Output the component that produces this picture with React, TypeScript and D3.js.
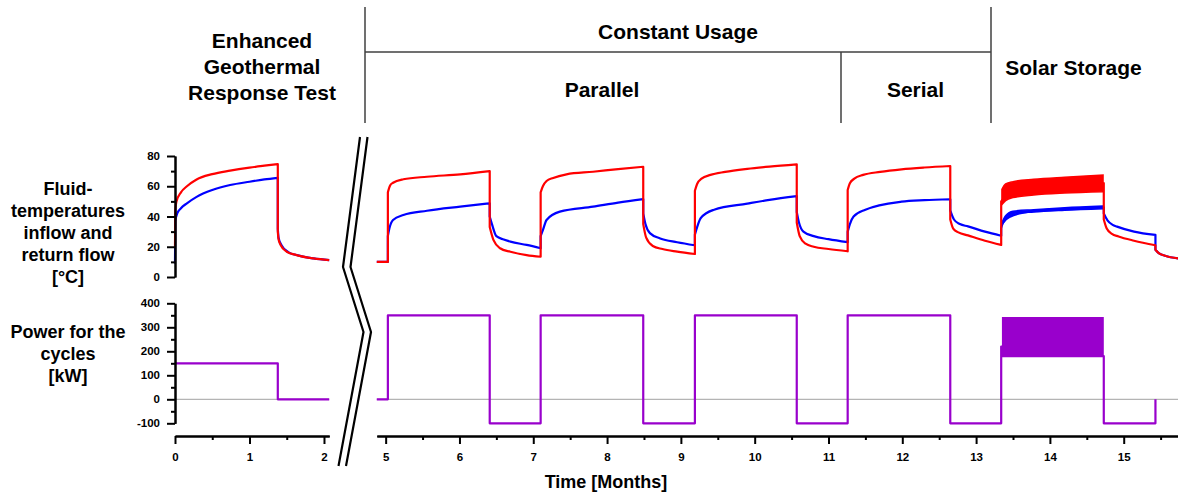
import React, { useRef, useEffect } from 'react';
import * as d3 from 'd3';

const W = 1178;
const H = 496;

type Pt = [number, number];

// Enhanced Geothermal Response Test, [month, °C] / [month, kW]
const ertSupply: Pt[] = [
  [0, 20], [0.004, 44], [0.02, 50], [0.08, 56], [0.16, 60], [0.29, 64.5], [0.5, 68],
  [0.74, 70.3], [1.0, 72.3], [1.2, 73.6], [1.38, 74.7],
  [1.38, 30], [1.39, 25], [1.42, 21], [1.5, 16.7], [1.63, 14.5], [1.86, 12.3], [2.07, 11.2],
];
const ertReturn: Pt[] = [
  [0, 9], [0.004, 37], [0.03, 42], [0.08, 45.5], [0.16, 48.7], [0.29, 53], [0.5, 57.5],
  [0.74, 60.8], [1.0, 63], [1.2, 64.5], [1.38, 65.6],
  [1.38, 32], [1.39, 26], [1.43, 21], [1.52, 16.5], [1.65, 14.3], [1.86, 12.3], [2.07, 11.2],
];
const ertPower: Pt[] = [[0, 150], [1.38, 0], [2.07, 0]];

// constant usage + solar storage, [month, °C]
const supplyTemp: Pt[] = [
  [4.88, 10], [5.03, 10],
  [5.03, 56], [5.06, 60.5], [5.1, 62.3], [5.24, 64.6], [5.56, 66.3], [6.01, 67.9], [6.41, 70],
  [6.41, 33], [6.46, 24.5], [6.55, 19], [6.69, 16.7], [6.91, 14.5], [7.1, 13.4],
  [7.1, 56], [7.13, 60], [7.18, 63.5], [7.27, 65.5], [7.45, 67.9], [7.81, 69.6], [8.15, 71.3], [8.49, 72.9],
  [8.49, 35], [8.53, 26], [8.62, 20.5], [8.75, 18.5], [8.95, 16.8], [9.19, 15.2],
  [9.19, 57], [9.22, 61.5], [9.28, 65], [9.4, 67.5], [9.6, 69.5], [9.9, 71.5], [10.2, 73], [10.57, 74.5],
  [10.57, 36], [10.61, 27], [10.69, 22], [10.8, 20], [11.0, 18.5], [11.26, 17],
  [11.26, 57.5], [11.29, 62], [11.35, 65], [11.47, 67.5], [11.7, 69.5], [11.99, 71.2], [12.3, 72.4], [12.65, 73.4],
  [12.65, 38], [12.69, 32], [12.76, 29.5], [12.89, 27.5], [13.12, 24], [13.34, 21.2],
  [13.34, 50], [13.5, 57.5], [13.78, 59.4], [14.2, 60.7], [14.73, 62],
  [14.73, 38], [14.77, 32], [14.84, 28.5], [14.93, 26.8], [15.14, 24], [15.43, 21],
  [15.43, 18], [15.47, 16], [15.56, 14], [15.76, 12.2],
];
const returnTemp: Pt[] = [
  [4.88, 10], [5.03, 10],
  [5.03, 27], [5.05, 32], [5.1, 37.7], [5.24, 41], [5.56, 43.8], [6.01, 46.5], [6.41, 48.7],
  [6.41, 40], [6.44, 35], [6.5, 27], [6.6, 24.8], [6.69, 23.4], [6.91, 21.2], [7.1, 19],
  [7.1, 27], [7.13, 31], [7.18, 37.7], [7.36, 43.2], [7.81, 46.5], [8.15, 49.2], [8.49, 51.5],
  [8.49, 42], [8.52, 35], [8.58, 29], [8.72, 25.5], [8.95, 23], [9.19, 21],
  [9.19, 28], [9.22, 33], [9.27, 39], [9.45, 44.5], [9.9, 48.5], [10.2, 51], [10.57, 53.5],
  [10.57, 43], [10.6, 36], [10.66, 30], [10.8, 27], [11.0, 25], [11.26, 23],
  [11.26, 30], [11.29, 35], [11.34, 40], [11.5, 44.5], [11.99, 49.8], [12.3, 50.8], [12.65, 51.4],
  [12.65, 44], [12.7, 38], [12.78, 35], [12.89, 33.5], [13.12, 30], [13.34, 27.3],
  [13.34, 32], [13.36, 35.5], [13.46, 39.9], [13.78, 43.6], [14.23, 45], [14.73, 46.1],
  [14.73, 42], [14.78, 37.5], [14.85, 34.5], [14.91, 33.3], [15.14, 30], [15.43, 27.8],
  [15.43, 18], [15.47, 16], [15.56, 14], [15.76, 12.2],
];
const cyclePower: Pt[] = [
  [4.88, 0], [5.03, 350], [6.41, -100], [7.1, 350], [8.49, -100], [9.19, 350], [10.57, -100],
  [11.26, 350], [12.65, -100], [13.34, 220], [13.36, 180], [14.73, -100], [15.43, 0],
];

// solar storage oscillation envelopes
const solarMonths = [13.35, 13.4, 13.5, 13.78, 14.2, 14.72];
const solarSupplyLow = [48, 50.5, 52.5, 54.2, 55.5, 56.4];
const solarSupplyHigh = [58, 61.5, 63, 64.6, 66, 67.4];
const solarReturnLow = [34, 38.5, 41.5, 43, 44.2, 45.2];
const solarReturnHigh = [36, 40.5, 43.5, 44.5, 45.8, 46.9];
const solarPowerMonths = [13.36, 14.72];
const solarPowerLow = [180, 180];
const solarPowerHigh = [340, 340];

const tempTicks = [0, 20, 40, 60, 80];
const tempMinor = [10, 30, 50, 70];
const powerTicks = [-100, 0, 100, 200, 300, 400];
const powerMinor = [-50, 50, 150, 250, 350];
const ertMonthTicks = [0, 1, 2];
const ertMonthMinor = [0.5, 1.5];
const monthTicks = [5, 6, 7, 8, 9, 10, 11, 12, 13, 14, 15];
const monthMinor = [5.5, 6.5, 7.5, 8.5, 9.5, 10.5, 11.5, 12.5, 13.5, 14.5, 15.5];

const tempLabel = ['Fluid-', 'temperatures', 'inflow and', 'return flow', '[°C]'];
const powerLabel = ['Power for the', 'cycles', '[kW]'];
const ertLabel = ['Enhanced', 'Geothermal', 'Response Test'];

const FONT = '"Liberation Sans", Arial, sans-serif';
const RED = '#ff0000';
const BLUE = '#0000ff';
const PURPLE = '#9900cc';

// split at vertical jumps (repeated month), smooth each piece, join with straight lines
function jumpPath(points: Pt[], x: d3.ScaleLinear<number, number>, y: d3.ScaleLinear<number, number>) {
  const segs: Pt[][] = [];
  let cur: Pt[] = [];
  points.forEach((p, i) => {
    if (i > 0 && p[0] === points[i - 1][0]) {
      segs.push(cur);
      cur = [];
    }
    cur.push(p);
  });
  segs.push(cur);
  const line = d3.line<Pt>().x(d => x(d[0])).y(d => y(d[1])).curve(d3.curveMonotoneX);
  return segs
    .map((s, i) => {
      const d = (line(s) || '').replace(/Z$/, '');
      return i === 0 ? d : 'L' + d.slice(1);
    })
    .join('');
}

export default function App() {
  const svgRef = useRef<SVGSVGElement | null>(null);

  useEffect(() => {
    if (!svgRef.current) return;
    const svg = d3.select(svgRef.current);
    svg.selectAll('*').remove();

    const xL = d3.scaleLinear().domain([0, 2.07]).range([175, 329.2]);
    const xR = d3.scaleLinear().domain([4.88, 15.76]).range([376.8, 1179.8]);
    const yT = d3.scaleLinear().domain([0, 80]).range([277, 156]);
    const yP = d3.scaleLinear().domain([-100, 400]).range([423.3, 303.3]);
    const axisY = 436;
    const fmt = (d: any) => String(d);

    // zero lines
    svg.append('line')
      .attr('x1', xL(0)).attr('x2', xL(2.07)).attr('y1', yP(0)).attr('y2', yP(0))
      .attr('stroke', '#b4b4b4').attr('stroke-width', 1.2);
    svg.append('line')
      .attr('x1', xR(4.88)).attr('x2', W).attr('y1', yP(0)).attr('y2', yP(0))
      .attr('stroke', '#b4b4b4').attr('stroke-width', 1.2);

    const drawLine = (d: string, color: string) =>
      svg.append('path').attr('d', d).attr('fill', 'none').attr('stroke', color)
        .attr('stroke-width', 2.2).attr('stroke-linejoin', 'round');

    const band = (months: number[], lo: number[], hi: number[], x: any, y: any, color: string) => {
      const area = d3.area<number>()
        .x(m => x(m))
        .y0((_, i) => y(lo[i]))
        .y1((_, i) => y(hi[i]))
        .curve(d3.curveMonotoneX);
      svg.append('path').attr('d', area(months)).attr('fill', color)
        .attr('stroke', color).attr('stroke-width', 1.5);
    };

    // temperatures
    drawLine(jumpPath(ertReturn, xL, yT), BLUE);
    drawLine(jumpPath(ertSupply, xL, yT), RED);
    drawLine(jumpPath(returnTemp, xR, yT), BLUE);
    band(solarMonths, solarReturnLow, solarReturnHigh, xR, yT, BLUE);
    drawLine(jumpPath(supplyTemp, xR, yT), RED);
    band(solarMonths, solarSupplyLow, solarSupplyHigh, xR, yT, RED);

    // power
    const step = d3.line<Pt>().x(d => xL(d[0])).y(d => yP(d[1])).curve(d3.curveStepAfter);
    drawLine(step(ertPower) || '', PURPLE);
    const stepR = d3.line<Pt>().x(d => xR(d[0])).y(d => yP(d[1])).curve(d3.curveStepAfter);
    drawLine(stepR(cyclePower) || '', PURPLE);
    band(solarPowerMonths, solarPowerLow, solarPowerHigh, xR, yP, PURPLE);

    const styleAxis = (g: any) => {
      g.select('.domain').attr('stroke', '#000').attr('stroke-width', 2);
      g.selectAll('.tick line').attr('stroke', '#000').attr('stroke-width', 2);
      g.selectAll('text')
        .attr('font-family', FONT).attr('font-weight', 'bold')
        .attr('font-size', 11.5).attr('fill', '#000');
    };

    // y axes
    svg.append('g').attr('transform', 'translate(175,0)')
      .call(d3.axisLeft(yT).tickValues(tempMinor).tickSize(4).tickSizeOuter(0).tickFormat(() => ''))
      .call(styleAxis);
    svg.append('g').attr('transform', 'translate(175,0)')
      .call(d3.axisLeft(yT).tickValues(tempTicks).tickSize(8).tickSizeOuter(0).tickPadding(7).tickFormat(fmt))
      .call(styleAxis);
    svg.append('g').attr('transform', 'translate(175,0)')
      .call(d3.axisLeft(yP).tickValues(powerMinor).tickSize(4).tickSizeOuter(0).tickFormat(() => ''))
      .call(styleAxis);
    svg.append('g').attr('transform', 'translate(175,0)')
      .call(d3.axisLeft(yP).tickValues(powerTicks).tickSize(8).tickSizeOuter(0).tickPadding(7).tickFormat(fmt))
      .call(styleAxis);

    // x axes
    svg.append('g').attr('transform', `translate(0,${axisY})`)
      .call(d3.axisBottom(xL).tickValues(ertMonthMinor).tickSize(4).tickSizeOuter(0).tickFormat(() => ''))
      .call(styleAxis);
    svg.append('g').attr('transform', `translate(0,${axisY})`)
      .call(d3.axisBottom(xL).tickValues(ertMonthTicks).tickSize(8).tickSizeOuter(0).tickPadding(9).tickFormat(fmt))
      .call(styleAxis);
    svg.append('g').attr('transform', `translate(0,${axisY})`)
      .call(d3.axisBottom(xR).tickValues(monthMinor).tickSize(4).tickSizeOuter(0).tickFormat(() => ''))
      .call(styleAxis);
    svg.append('g').attr('transform', `translate(0,${axisY})`)
      .call(d3.axisBottom(xR).tickValues(monthTicks).tickSize(8).tickSizeOuter(0).tickPadding(9).tickFormat(fmt))
      .call(styleAxis);

    // axis break marks
    const brk = d3.line();
    [0, 7.5].forEach(dx => {
      svg.append('path')
        .attr('d', brk([[360 + dx, 137], [343 + dx, 267], [363.5 + dx, 332], [338.5 + dx, 466]]))
        .attr('fill', 'none').attr('stroke', '#000').attr('stroke-width', 2.2);
    });

    const text = (s: string, x: number, y: number, size: number) =>
      svg.append('text').text(s).attr('x', x).attr('y', y).attr('text-anchor', 'middle')
        .attr('font-family', FONT).attr('font-weight', 'bold').attr('font-size', size).attr('fill', '#000');

    tempLabel.forEach((s, i) => text(s, 68, 194.5 + i * 22, 18));
    powerLabel.forEach((s, i) => text(s, 68, 337.5 + i * 22, 18));
    ertLabel.forEach((s, i) => text(s, 262, 48 + i * 26, 21));
    text('Constant Usage', 678, 38.5, 21);
    text('Parallel', 602, 96.5, 21);
    text('Serial', 915.5, 96.5, 21);
    text('Solar Storage', 1073.5, 74.5, 21);
    text('Time [Months]', 606, 488, 18);

    // phase separators
    const sep = [
      [[365, 7], [365, 123]],
      [[365, 52], [991, 52]],
      [[841, 52], [841, 123]],
      [[991, 7], [991, 123]],
    ];
    sep.forEach(([a, b]) => {
      svg.append('line')
        .attr('x1', a[0]).attr('y1', a[1]).attr('x2', b[0]).attr('y2', b[1])
        .attr('stroke', '#404040').attr('stroke-width', 1.5);
    });
  }, []);

  return (
    <div style={{ position: 'absolute', left: 0, top: 0 }}>
      <svg ref={svgRef} width={W} height={H} style={{ display: 'block', background: '#fff' }}></svg>
    </div>
  );
}
